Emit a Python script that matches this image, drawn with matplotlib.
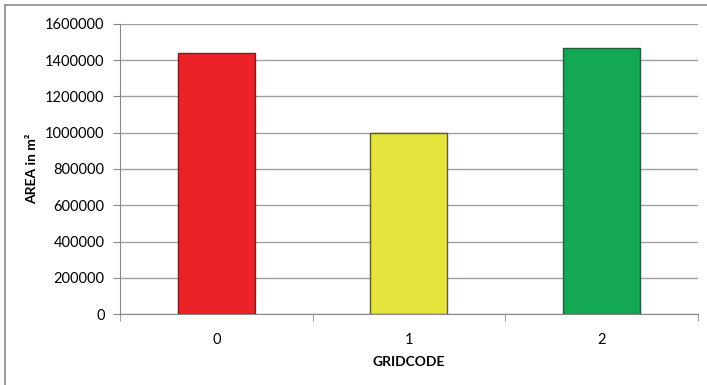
import numpy as np
import matplotlib
matplotlib.use('Agg')
import matplotlib.pyplot as plt
from matplotlib.lines import Line2D

plt.rcParams['font.family'] = ['Lato', 'DejaVu Sans']

gridcodes = ['0', '1', '2']
areas = [1440000, 1000000, 1467000]
bar_colors = ['#ec2229', '#e4e43c', '#13a853']
edge_colors = ['#7a1c1c', '#5a5a2a', '#1e5e3a']

fig = plt.figure(figsize=(7.07, 3.85), dpi=100)
ax = fig.add_axes([0.1697, 0.1844, 0.8173, 0.7533])

x = np.arange(len(gridcodes))
ax.bar(x, areas, width=0.4, color=bar_colors, edgecolor=edge_colors, linewidth=1.0, zorder=3)

ax.set_xlim(-0.5, 2.5)
ax.set_ylim(0, 1600000)
ax.set_yticks(np.arange(0, 1600001, 200000))
ax.set_yticklabels([str(v) for v in range(0, 1600001, 200000)], fontsize=10.5)

# category labels centred, tick marks on the boundaries
ax.set_xticks(x)
ax.set_xticklabels(gridcodes, fontsize=10.5)
ax.tick_params(axis='x', which='major', length=0, pad=14)
ax.set_xticks(np.arange(-0.5, 3, 1), minor=True)
ax.tick_params(axis='x', which='minor', length=5, color='#888888', direction='out')
ax.tick_params(axis='y', length=5, color='#888888', direction='out', pad=6)

ax.yaxis.grid(True, color='#a0a0a0', linewidth=1.0, zorder=0)
for side in ['top', 'right']:
    ax.spines[side].set_visible(False)
for side in ['left', 'bottom']:
    ax.spines[side].set_color('#888888')

ax.set_xlabel('GRIDCODE', fontsize=10, fontweight='bold', labelpad=6)
ax.set_ylabel('AREA in m²', fontsize=10, fontweight='bold', labelpad=5)

# outer frame: top and left edges only
fig.add_artist(Line2D([5/707, 1], [1-5/385, 1-5/385], color='#8a8a8a', linewidth=1.2, transform=fig.transFigure))
fig.add_artist(Line2D([5/707, 5/707], [0, 1-5/385], color='#8a8a8a', linewidth=1.2, transform=fig.transFigure))

fig.savefig('out.png', dpi=100)
